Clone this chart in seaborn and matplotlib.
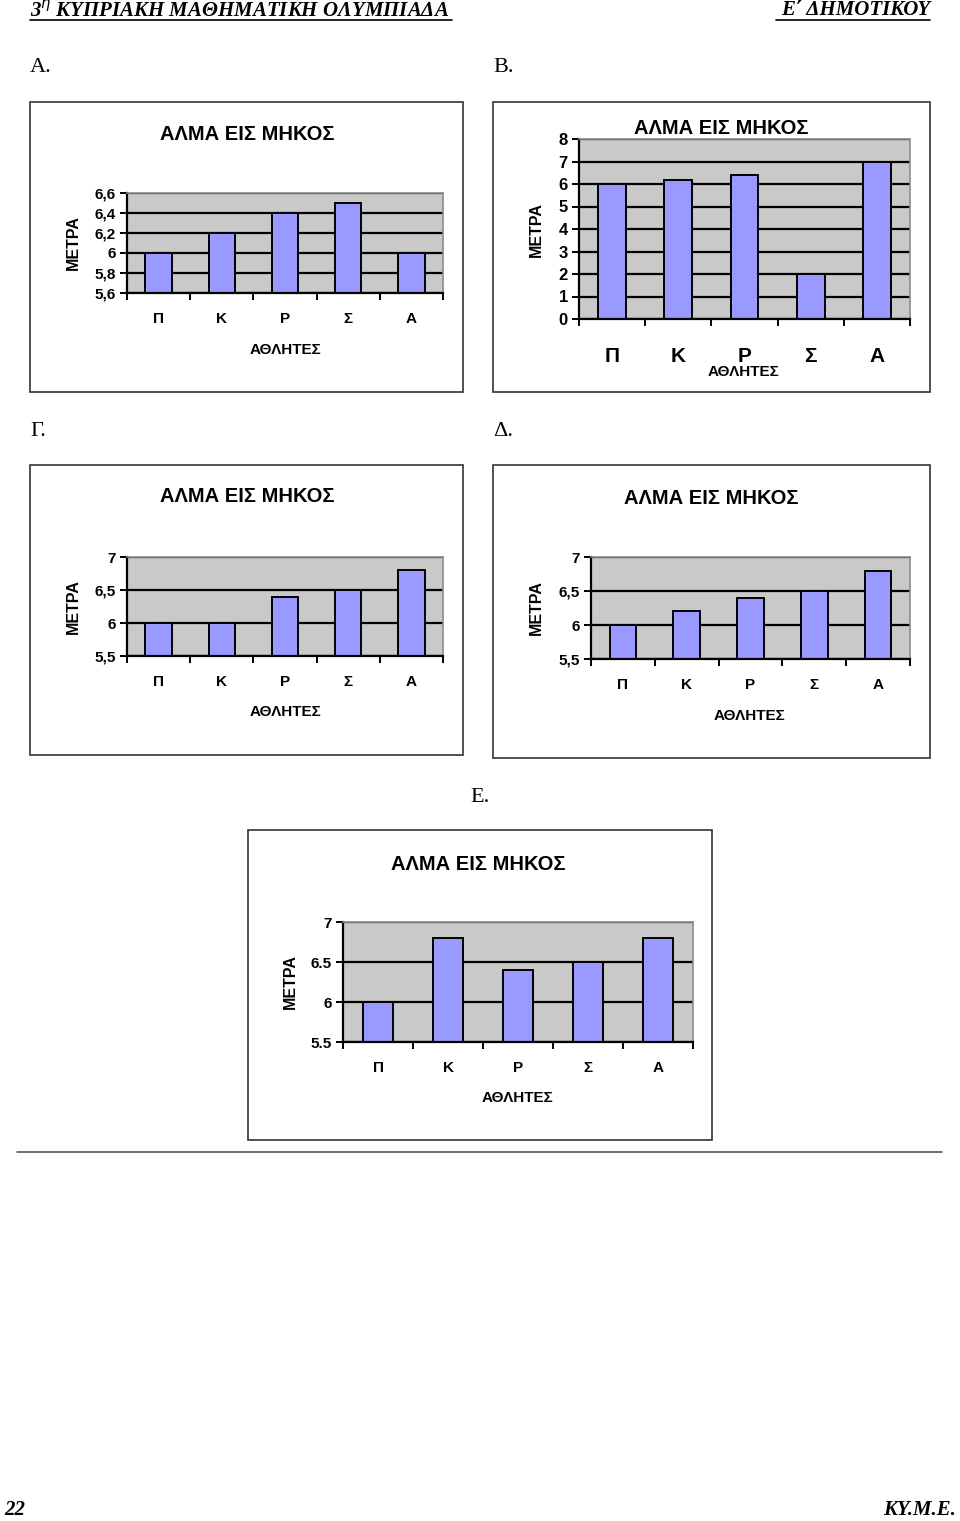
import numpy as np
import pandas as pd
import matplotlib
matplotlib.use('Agg')
import matplotlib.pyplot as plt
from matplotlib.patches import Rectangle
from matplotlib.lines import Line2D
import seaborn as sns

# data
athletes = ['Π', 'Κ', 'Ρ', 'Σ', 'Α']
vals_a = [6.0, 6.2, 6.4, 6.5, 6.0]
vals_b = [6.0, 6.2, 6.4, 2.0, 7.0]
vals_c = [6.0, 6.0, 6.4, 6.5, 6.8]
vals_d = [6.0, 6.2, 6.4, 6.5, 6.8]
vals_e = [6.0, 6.8, 6.4, 6.5, 6.8]
yticks_a = [5.6, 5.8, 6.0, 6.2, 6.4, 6.6]
ylabels_a = ['5,6', '5,8', '6', '6,2', '6,4', '6,6']
yticks_b = [0, 1, 2, 3, 4, 5, 6, 7, 8]
ylabels_b = ['0', '1', '2', '3', '4', '5', '6', '7', '8']
yticks_c = [5.5, 6.0, 6.5, 7.0]
ylabels_c = ['5,5', '6', '6,5', '7']
ylabels_e = ['5.5', '6', '6.5', '7']

sns.set_style('white')
plt.rcParams['font.family'] = ['Liberation Sans', 'DejaVu Sans']
plt.rcParams['text.color'] = 'black'
plt.rcParams['xtick.color'] = 'black'
plt.rcParams['ytick.color'] = 'black'

W, H = 960, 1521
fig = plt.figure(figsize=(W / 100, H / 100), dpi=100)

def fx(x):
    return x / W

def fy(y):
    return 1 - y / H

def frame(x0, y0, x1, y1):
    fig.add_artist(Rectangle((fx(x0), fy(y1)), (x1 - x0) / W, (y1 - y0) / H,
                             transform=fig.transFigure, fill=False,
                             edgecolor='#333333', lw=1.2))

def chart(vals, yt, yl, plot, title_xy, xlab_xy, ylab_xy, cat_size=11, cat_pad=14, ysize=11):
    x0, y0, x1, y1 = plot
    ax = fig.add_axes([fx(x0), fy(y1), (x1 - x0) / W, (y1 - y0) / H])
    df = pd.DataFrame({'athlete': athletes, 'm': vals})
    sns.barplot(data=df, x='athlete', y='m', color='#9999FF', saturation=1,
                edgecolor='black', linewidth=1.4, width=0.42, ax=ax)
    ax.set_facecolor('#C9C9C9')
    ax.set_ylim(yt[0], yt[-1])
    ax.set_xlim(-0.5, 4.5)
    ax.set_yticks(yt)
    ax.set_yticklabels(yl, fontsize=ysize, fontweight='bold')
    ax.set_xticks(np.arange(-0.5, 5, 1))
    ax.set_xticklabels([''] * 6)
    ax.set_xticks(range(5), minor=True)
    ax.set_xticklabels(athletes, minor=True, fontsize=cat_size, fontweight='bold')
    ax.tick_params(axis='x', which='minor', length=0, pad=cat_pad)
    ax.tick_params(axis='x', which='major', length=5, width=1.4, direction='out', bottom=True)
    ax.tick_params(axis='y', length=5, width=1.4, direction='out', left=True, pad=3)
    ax.yaxis.grid(True, color='black', lw=1.6)
    ax.set_axisbelow(True)
    for s in ['top', 'right']:
        ax.spines[s].set_color('#8C8C8C')
        ax.spines[s].set_linewidth(1.2)
    for s in ['left', 'bottom']:
        ax.spines[s].set_color('black')
        ax.spines[s].set_linewidth(1.6)
    ax.set_xlabel('')
    ax.set_ylabel('')
    fig.text(fx(title_xy[0]), fy(title_xy[1]), 'ΑΛΜΑ ΕΙΣ ΜΗΚΟΣ', ha='center', va='center',
             fontsize=14.5, fontweight='bold')
    fig.text(fx(xlab_xy[0]), fy(xlab_xy[1]), 'ΑΘΛΗΤΕΣ', ha='center', va='center',
             fontsize=11, fontweight='bold')
    fig.text(fx(ylab_xy[0]), fy(ylab_xy[1]), 'ΜΕΤΡΑ', ha='center', va='center',
             rotation=90, fontsize=11.5, fontweight='bold')
    return ax

serif = dict(family=['Liberation Serif', 'DejaVu Serif'], fontweight='bold', fontstyle='italic')

# header
fig.text(fx(30), fy(10), '3$^{\\eta}$ ΚΥΠΡΙΑΚΗ ΜΑΘΗΜΑΤΙΚΗ ΟΛΥΜΠΙΑΔΑ', ha='left', va='center',
         fontsize=15, **serif)
fig.text(fx(930), fy(10), 'Ε΄ ΔΗΜΟΤΙΚΟΥ', ha='right', va='center', fontsize=15, **serif)
fig.add_artist(Line2D([fx(30), fx(452)], [fy(20), fy(20)], color='black', lw=1.2))
fig.add_artist(Line2D([fx(776), fx(930)], [fy(20), fy(20)], color='black', lw=1.2))

serif_plain = dict(family=['Liberation Serif', 'DejaVu Serif'])
fig.text(fx(30), fy(68), 'Α.', ha='left', va='center', fontsize=16, **serif_plain)
fig.text(fx(493), fy(68), 'Β.', ha='left', va='center', fontsize=16, **serif_plain)
fig.text(fx(30), fy(432), 'Γ.', ha='left', va='center', fontsize=16, **serif_plain)
fig.text(fx(493), fy(432), 'Δ.', ha='left', va='center', fontsize=16, **serif_plain)
fig.text(fx(470), fy(797), 'Ε.', ha='left', va='center', fontsize=16, **serif_plain)

# A
frame(30, 102, 463, 392)
chart(vals_a, yticks_a, ylabels_a, (127, 193, 443, 293), (247, 134), (285, 350), (73, 243))

# B
frame(493, 102, 930, 392)
chart(vals_b, yticks_b, ylabels_b, (579, 139, 910, 319), (721, 128), (743, 372), (536, 230),
      cat_size=15, cat_pad=20, ysize=12)

# Γ
frame(30, 465, 463, 755)
chart(vals_c, yticks_c, ylabels_c, (127, 557, 443, 656), (247, 497), (285, 712), (73, 607))

# Δ
frame(493, 465, 930, 758)
chart(vals_d, yticks_c, ylabels_c, (591, 557, 910, 659), (711, 498), (750, 716), (536, 608))

# Ε
frame(248, 830, 712, 1140)
chart(vals_e, yticks_c, ylabels_e, (343, 922, 693, 1042), (478, 864), (518, 1098), (290, 982))

# page rule and footer
fig.add_artist(Line2D([fx(17), fx(942)], [fy(1152), fy(1152)], color='#555555', lw=1.2))
fig.text(fx(4), fy(1510), '22', ha='left', va='center', fontsize=15, **serif)
fig.text(fx(956), fy(1510), 'ΚΥ.Μ.Ε.', ha='right', va='center', fontsize=15, **serif)

fig.savefig('out.png', dpi=100, facecolor='white')
